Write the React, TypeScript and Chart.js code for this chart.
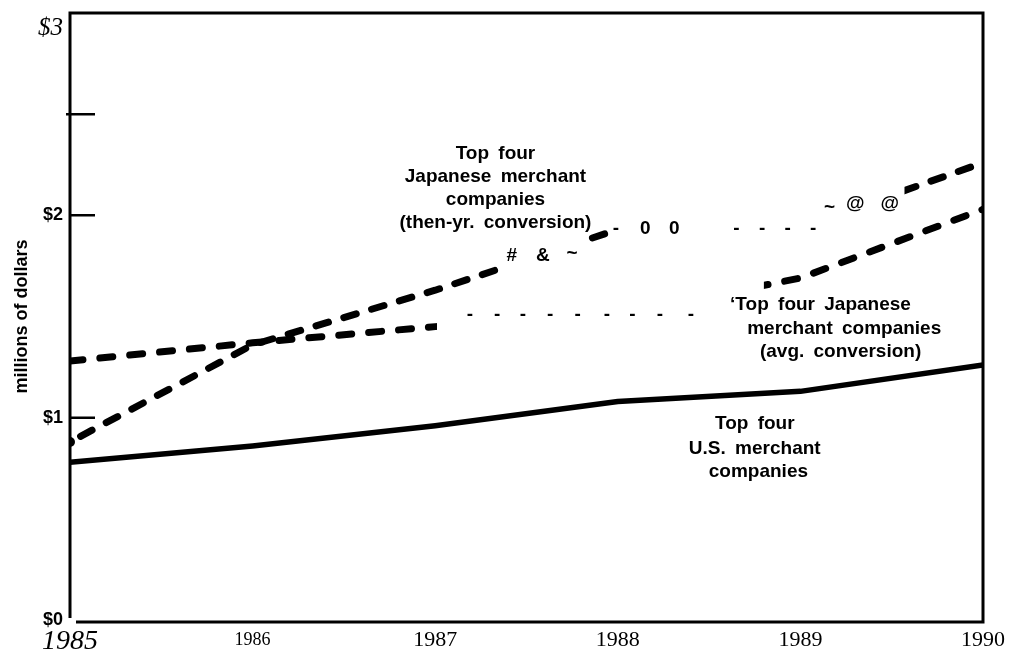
import React, { useEffect, useRef } from "react";
import { Chart, registerables } from "chart.js";

Chart.register(...registerables);

// ---- data ----
const years = [1985, 1986, 1987, 1988, 1989, 1990];
const usMerchant = [0.78, 0.86, 0.96, 1.08, 1.13, 1.26];
const japanAvgConversion = [1.28, 1.37, 1.45, 1.51, 1.69, 2.03];
const japanThenYrConversion = [0.88, 1.36, 1.63, 1.93, 1.94, 2.26];

const yTickValues = [0, 1, 2, 3];
const yTickMarks = [1, 2, 2.5];
const xTickLabels = ["1985", "1986", "1987", "1988", "1989", "1990"];

// spans (in years) where the scanned dashed lines are broken
const thenYrBrokenSpans: [number, number][] = [
  [1987.37, 1987.84],
  [1987.95, 1989.57],
];
const avgBrokenSpans: [number, number][] = [[1987.01, 1988.8]];

// text annotations (data coordinates: year, dollars)
const labelLines = [
  { text: "Top four", x: 1987.33, y: 2.305 },
  { text: "Japanese merchant", x: 1987.33, y: 2.191 },
  { text: "companies", x: 1987.33, y: 2.077 },
  { text: "(then-yr. conversion)", x: 1987.33, y: 1.963 },
  { text: "\u2018Top four Japanese", x: 1989.11, y: 1.56 },
  { text: "merchant companies", x: 1989.24, y: 1.441 },
  { text: "(avg. conversion)", x: 1989.22, y: 1.328 },
  { text: "Top four", x: 1988.75, y: 0.97 },
  { text: "U.S. merchant", x: 1988.75, y: 0.846 },
  { text: "companies", x: 1988.77, y: 0.732 },
];

const scanMarks = [
  { text: "#", x: 1987.42, y: 1.8 },
  { text: "&", x: 1987.59, y: 1.8 },
  { text: "~", x: 1987.75, y: 1.812 },
  { text: "-", x: 1987.99, y: 1.935 },
  { text: "0", x: 1988.15, y: 1.935 },
  { text: "0", x: 1988.31, y: 1.935 },
  { text: "-", x: 1988.65, y: 1.935 },
  { text: "-", x: 1988.79, y: 1.935 },
  { text: "-", x: 1988.93, y: 1.935 },
  { text: "-", x: 1989.07, y: 1.935 },
  { text: "~", x: 1989.16, y: 2.035 },
  { text: "@", x: 1989.3, y: 2.055 },
  { text: "@", x: 1989.49, y: 2.055 },
  { text: "-", x: 1987.19, y: 1.51 },
  { text: "-", x: 1987.34, y: 1.51 },
  { text: "-", x: 1987.48, y: 1.51 },
  { text: "-", x: 1987.63, y: 1.51 },
  { text: "-", x: 1987.78, y: 1.51 },
  { text: "-", x: 1987.94, y: 1.51 },
  { text: "-", x: 1988.08, y: 1.51 },
  { text: "-", x: 1988.23, y: 1.51 },
  { text: "-", x: 1988.4, y: 1.51 },
];

const SANS = '"Liberation Sans", Arial, sans-serif';
const SERIF = '"Liberation Serif", "Times New Roman", serif';

const brokenLinePlugin = {
  id: "brokenLine",
  beforeDatasetDraw(chart: any, args: any) {
    const ds = chart.data.datasets[args.index] as any;
    const spans: [number, number][] | undefined = ds.brokenSpans;
    if (!spans) return;
    const { ctx } = chart;
    const xs = chart.scales.x;
    ctx.save();
    ctx.beginPath();
    let start = 0;
    const sorted = spans
      .map(([a, b]) => [xs.getPixelForValue(a), xs.getPixelForValue(b)])
      .sort((p, q) => p[0] - q[0]);
    for (const [a, b] of sorted) {
      if (a > start) ctx.rect(start, 0, a - start, chart.height);
      start = b;
    }
    ctx.rect(start, 0, chart.width - start, chart.height);
    ctx.clip();
  },
  afterDatasetDraw(chart: any, args: any) {
    const ds = chart.data.datasets[args.index] as any;
    if (!ds.brokenSpans) return;
    chart.ctx.restore();
  },
};

const decorPlugin = {
  id: "decor",
  afterDatasetsDraw(chart: any) {
    const { ctx, chartArea } = chart;
    const xs = chart.scales.x;
    const ys = chart.scales.y;
    const { left, right, top, bottom } = chartArea;
    ctx.save();
    ctx.strokeStyle = "#000";
    ctx.lineWidth = 3;
    ctx.lineCap = "butt";
    ctx.beginPath();
    ctx.moveTo(left, top);
    ctx.lineTo(right, top);
    ctx.moveTo(left, top - 1.5);
    ctx.lineTo(left, bottom - 2);
    ctx.moveTo(right, top - 1.5);
    ctx.lineTo(right, bottom + 3);
    ctx.moveTo(left + 6, bottom + 2);
    ctx.lineTo(right + 1.5, bottom + 2);
    ctx.stroke();

    ctx.lineWidth = 2.5;
    ctx.beginPath();
    for (const v of yTickMarks) {
      const y = ys.getPixelForValue(v);
      const x0 = v === 2.5 ? left - 4 : left;
      ctx.moveTo(x0, y);
      ctx.lineTo(left + 25, y);
    }
    ctx.stroke();

    ctx.fillStyle = "#000";
    ctx.textAlign = "center";
    ctx.textBaseline = "middle";
    ctx.font = `bold 19px ${SANS}`;
    if ("wordSpacing" in ctx) (ctx as any).wordSpacing = "4px";
    for (const l of labelLines) {
      ctx.fillText(l.text, xs.getPixelForValue(l.x), ys.getPixelForValue(l.y));
    }
    if ("wordSpacing" in ctx) (ctx as any).wordSpacing = "0px";
    for (const m of scanMarks) {
      ctx.fillText(m.text, xs.getPixelForValue(m.x), ys.getPixelForValue(m.y));
    }
    ctx.restore();
  },
};

export default function App() {
  const canvasRef = useRef<HTMLCanvasElement | null>(null);

  useEffect(() => {
    const canvas = canvasRef.current;
    if (!canvas) return;
    const toPoints = (vals: number[]) => years.map((yr, i) => ({ x: yr, y: vals[i] }));
    const chart = new Chart(canvas, {
      type: "line",
      data: {
        datasets: [
          {
            label: "Top four U.S. merchant companies",
            data: toPoints(usMerchant),
            borderColor: "#000",
            borderWidth: 5.5,
            pointRadius: 0,
            tension: 0,
            borderCapStyle: "round",
            borderJoinStyle: "round",
          },
          {
            label: "Top four Japanese merchant companies (avg. conversion)",
            data: toPoints(japanAvgConversion),
            borderColor: "#000",
            borderWidth: 7,
            borderDash: [13, 17],
            borderCapStyle: "round",
            borderJoinStyle: "round",
            pointRadius: 0,
            tension: 0,
            brokenSpans: avgBrokenSpans,
          } as any,
          {
            label: "Top four Japanese merchant companies (then-yr. conversion)",
            data: toPoints(japanThenYrConversion),
            borderColor: "#000",
            borderWidth: 7,
            borderDash: [13, 16],
            borderDashOffset: -12,
            borderCapStyle: "round",
            borderJoinStyle: "round",
            pointRadius: (c: any) => (c.dataIndex === 0 ? 5 : 0),
            pointBackgroundColor: "#000",
            pointBorderWidth: 0,
            tension: 0,
            brokenSpans: thenYrBrokenSpans,
          } as any,
        ],
      },
      options: {
        animation: false,
        responsive: true,
        maintainAspectRatio: false,
        layout: { padding: { left: 0, top: 13, right: 34, bottom: 0 } },
        plugins: {
          legend: { display: false },
          tooltip: { enabled: false },
        },
        scales: {
          x: {
            type: "linear",
            min: 1985,
            max: 1990,
            afterFit: (s: any) => {
              s.height = 35;
              s.paddingLeft = 0;
              s.paddingRight = 0;
            },
            border: { display: false },
            grid: { display: false, drawTicks: false },
            afterBuildTicks: (s: any) => {
              s.ticks = years.map((v) => ({ value: v }));
            },
            ticks: {
              padding: 6,
              color: "#000",
              autoSkip: false,
              maxRotation: 0,
              callback: (v: any) => xTickLabels[years.indexOf(Number(v))] ?? "",
              font: (c: any) => {
                const v = c.tick?.value;
                if (v === 1985) return { family: SERIF, size: 28, style: "italic", lineHeight: 1.1 };
                if (v === 1986) return { family: SERIF, size: 18, lineHeight: 1.6 };
                return { family: SERIF, size: 22, lineHeight: 1.3 };
              },
            },
          },
          y: {
            min: 0,
            max: 3,
            afterFit: (s: any) => {
              s.width = 70;
              s.paddingTop = 0;
              s.paddingBottom = 0;
            },
            border: { display: false },
            grid: { display: false, drawTicks: false },
            afterBuildTicks: (s: any) => {
              s.ticks = yTickValues.map((v) => ({ value: v }));
            },
            ticks: {
              padding: 7,
              color: "#000",
              callback: (v: any) => (Number(v) === 3 ? ["", "$3"] : "$" + v),
              font: (c: any) => {
                const v = c.tick?.value;
                if (v === 3) return { family: SERIF, size: 25, style: "italic", lineHeight: 1.2 };
                return { family: SANS, size: 18, weight: "bold", lineHeight: 1.2 };
              },
            },
            title: {
              display: true,
              text: "millions of dollars",
              color: "#000",
              font: { family: SANS, size: 18, weight: "bold", lineHeight: 1.2 },
              padding: { top: 11, bottom: 0 },
            },
          },
        },
      },
      plugins: [brokenLinePlugin, decorPlugin],
    } as any);
    return () => chart.destroy();
  }, []);

  return (
    <div style={{ position: "absolute", left: 0, top: 0, width: 1017, height: 655, background: "#fff" }}>
      <canvas ref={canvasRef} />
    </div>
  );
}
